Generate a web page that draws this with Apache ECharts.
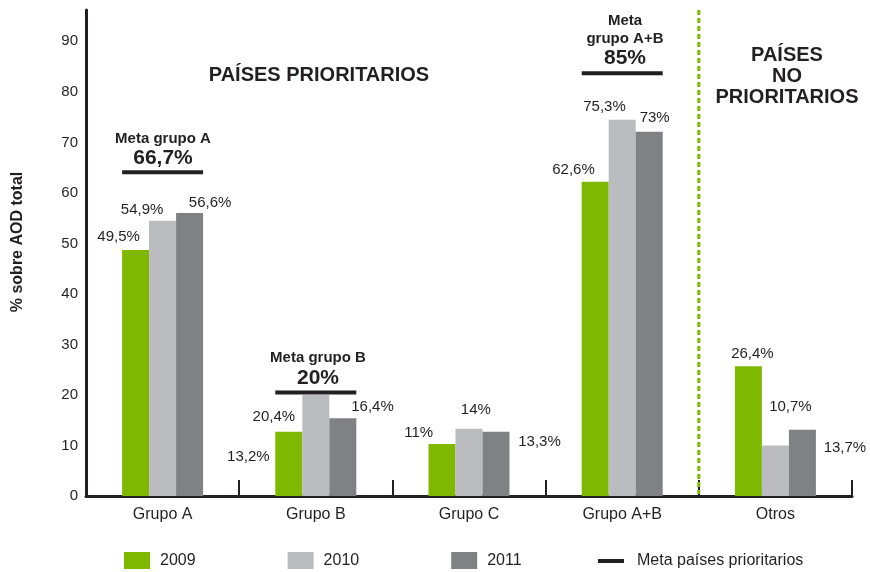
<!DOCTYPE html>
<html>
<head>
<meta charset="utf-8">
<script src="https://cdn.jsdelivr.net/npm/echarts@6/dist/echarts.min.js"></script>
<style>
  html, body { margin: 0; padding: 0; background: #fff; }
  #chart { width: 870px; height: 572px; }
</style>
</head>
<body>
<div id="chart"></div>
<script>
// datos
const categories = ['Grupo A', 'Grupo B', 'Grupo C', 'Grupo A+B', 'Otros'];
const values2009 = [48.7, 12.7, 10.3, 62.2, 25.7];
const values2010 = [54.5, 20.0, 13.3, 74.5, 10.0];
const values2011 = [56.0, 15.4, 12.7, 72.1, 13.1];
const labels2009 = ['49,5%', '13,2%', '11%', '62,6%', '26,4%'];
const labels2010 = ['54,9%', '20,4%', '14%', '75,3%', '10,7%'];
const labels2011 = ['56,6%', '16,4%', '13,3%', '73%', '13,7%'];
const metaGroups = [0, 1, 3];
const metaLevels = [64.1, 20.5, 83.7];
const dividerAfter = 3; // linea verde entre Grupo A+B y Otros
const yMin = 0, yMax = 96.2, yStep = 10;

// posicion de las etiquetas respecto a cada barra (solo estilo)
const off2009 = [[-17, -4.7], [-40.5, 33], [-23.3, -3.3], [-21.7, -4], [4, -4.7]];
const off2010 = [[-20.5, -3], [-42, 29.7], [6.8, -11], [-17.7, -4.7], [15, -31]];
const off2011 = [[20.5, -2.3], [29.7, -3.3], [43.5, 17.7], [5.5, -5.7], [42.5, 26.3]];

const FONT = '"Liberation Sans", Arial, sans-serif';
const INK = '#231f20';
const BAR_W = 27;

function barSeries(name, color, values, labels, offsets) {
  return {
    name: name,
    type: 'bar',
    barWidth: BAR_W,
    barGap: '0%',
    itemStyle: { color: color },
    data: values.map((v, i) => ({ value: v, label: { offset: offsets[i] } })),
    label: {
      show: true,
      position: 'top',
      distance: 0,
      fontFamily: FONT,
      fontSize: 15,
      lineHeight: 16,
      color: INK,
      formatter: p => labels[p.dataIndex]
    }
  };
}

// textos sueltos (titulos y metas)
function txt(text, x, y, size, lineHeight, rotation) {
  return {
    type: 'text',
    x: x,
    y: y,
    rotation: rotation || 0,
    style: {
      text: text,
      x: 0, y: 0,
      textAlign: 'center',
      textVerticalAlign: 'middle',
      fontFamily: FONT,
      fontWeight: 'bold',
      fontSize: size,
      lineHeight: lineHeight || size + 1,
      fill: INK
    }
  };
}

const chart = echarts.init(document.getElementById('chart'));

chart.setOption({
  animation: false,
  textStyle: { fontFamily: FONT },
  grid: { left: 86, right: 18, top: 10, bottom: 76 },
  legend: [
    {
      data: ['2009', '2010', '2011'],
      left: 124,
      top: 552,
      padding: 0,
      itemWidth: 26,
      itemHeight: 17,
      itemGap: 92,
      icon: 'rect',
      textStyle: { fontSize: 16, color: INK, padding: [0, 0, 0, 5] }
    },
    {
      data: [{ name: 'Meta países prioritarios', icon: 'rect' }],
      left: 598,
      top: 553,
      padding: 0,
      itemWidth: 26,
      itemHeight: 4,
      textStyle: { fontSize: 16, color: INK, padding: [0, 0, 0, 8] }
    }
  ],
  xAxis: {
    type: 'category',
    data: categories,
    axisLine: { lineStyle: { color: INK, width: 3 } },
    axisTick: { show: true, inside: true, length: 16, lineStyle: { color: INK, width: 2 } },
    axisLabel: { fontSize: 16, color: INK, margin: 11 }
  },
  yAxis: {
    type: 'value',
    min: yMin,
    max: yMax,
    interval: yStep,
    splitLine: { show: false },
    axisLine: { show: true, lineStyle: { color: INK, width: 3 } },
    axisTick: { show: false },
    axisLabel: { fontSize: 15, color: INK, margin: 8, showMaxLabel: false }
  },
  series: [
    barSeries('2009', '#7fb800', values2009, labels2009, off2009),
    barSeries('2010', '#bbbcbf', values2010, labels2010, off2010),
    barSeries('2011', '#808184', values2011, labels2011, off2011),
    {
      name: 'Meta países prioritarios',
      type: 'custom',
      itemStyle: { color: INK },
      z: 5,
      data: metaGroups.map((g, i) => [g, metaLevels[i]]),
      renderItem: (params, api) => {
        const c = api.coord([api.value(0), api.value(1)]);
        const half = BAR_W * 1.5;
        return {
          type: 'line',
          shape: { x1: c[0] - half, y1: c[1], x2: c[0] + half, y2: c[1] },
          style: { stroke: INK, lineWidth: 4 }
        };
      }
    },
    {
      name: 'divisor',
      type: 'custom',
      z: 1,
      data: [[dividerAfter]],
      renderItem: (params, api) => {
        const a = api.coord([api.value(0), 0]);
        const b = api.coord([api.value(0) + 1, 0]);
        const top = api.coord([api.value(0), yMax]);
        const x = (a[0] + b[0]) / 2;
        return {
          type: 'line',
          shape: { x1: x, y1: top[1], x2: x, y2: a[1] - 2 },
          style: { stroke: '#7fb800', lineWidth: 3, lineDash: [5, 3] }
        };
      }
    }
  ],
  graphic: [
    txt('PAÍSES PRIORITARIOS', 319, 75, 20),
    txt('PAÍSES\nNO\nPRIORITARIOS', 787, 76, 20, 21),
    txt('Meta grupo A', 163, 139, 15),
    txt('66,7%', 163, 158, 21),
    txt('Meta grupo B', 318, 358, 15),
    txt('20%', 318, 378, 21),
    txt('Meta', 625, 21, 15),
    txt('grupo A+B', 625, 39, 15),
    txt('85%', 625, 58, 21),
    txt('% sobre AOD total', 18, 242, 16, 17, Math.PI / 2)
  ]
});
</script>
</body>
</html>
